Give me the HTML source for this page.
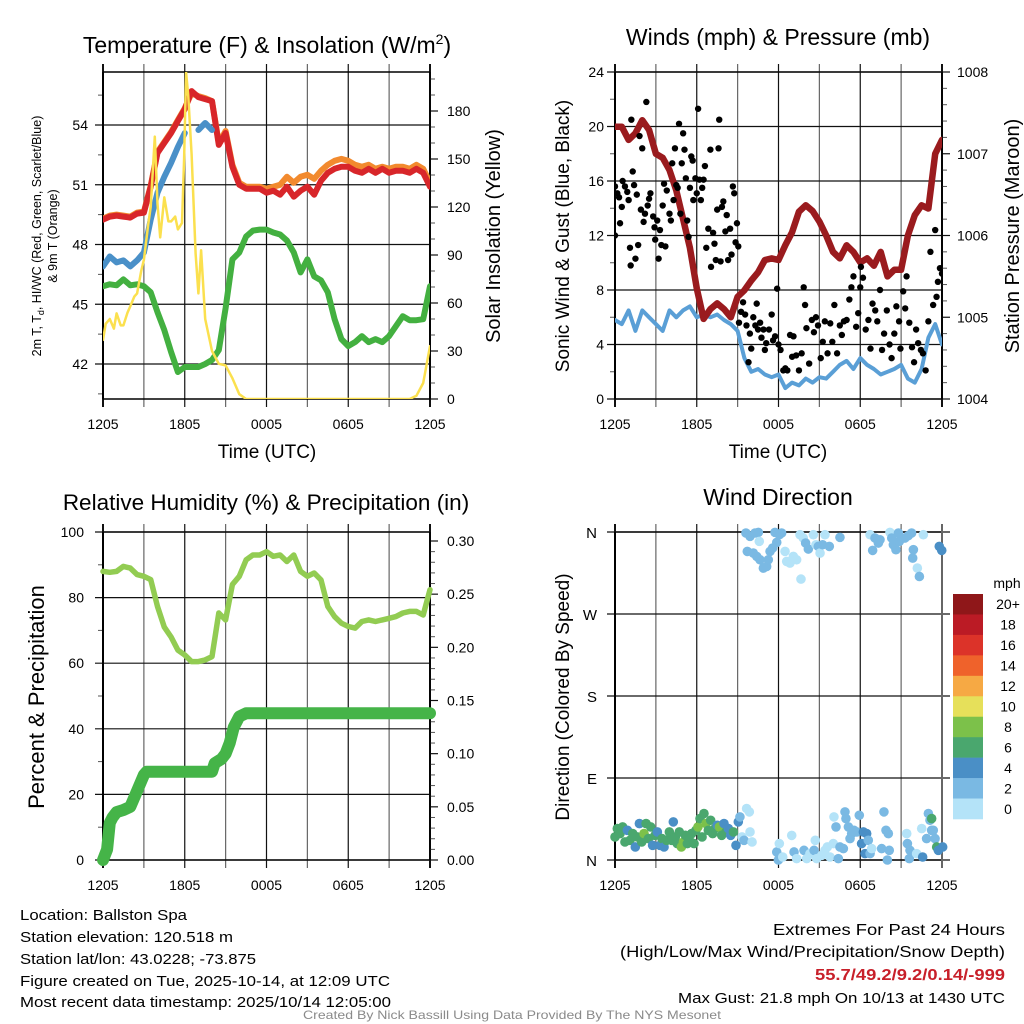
<!DOCTYPE html>
<html><head><meta charset="utf-8">
<style>
html,body{margin:0;padding:0;background:#fff;}
svg{display:block;font-family:"Liberation Sans",Arial,sans-serif;}
</style></head>
<body>
<svg id="fig" width="1024" height="1024" viewBox="0 0 1024 1024" xmlns="http://www.w3.org/2000/svg">
<g id="p1"></g>
<g id="p2"></g>
<g id="p3"></g>
<g id="p4"></g>
<g id="info">
<text x="20" y="920" font-size="15" textLength="167" lengthAdjust="spacingAndGlyphs">Location: Ballston Spa</text>
<text x="20" y="942" font-size="15" textLength="213" lengthAdjust="spacingAndGlyphs">Station elevation: 120.518 m</text>
<text x="20" y="964" font-size="15" textLength="236" lengthAdjust="spacingAndGlyphs">Station lat/lon: 43.0228; -73.875</text>
<text x="20" y="986" font-size="15" textLength="370" lengthAdjust="spacingAndGlyphs">Figure created on Tue, 2025-10-14, at 12:09 UTC</text>
<text x="20" y="1007" font-size="15" textLength="371" lengthAdjust="spacingAndGlyphs">Most recent data timestamp: 2025/10/14 12:05:00</text>
<text x="773" y="935" font-size="16" textLength="232" lengthAdjust="spacingAndGlyphs">Extremes For Past 24 Hours</text>
<text x="620" y="957" font-size="16" textLength="385" lengthAdjust="spacingAndGlyphs">(High/Low/Max Wind/Precipitation/Snow Depth)</text>
<text x="815" y="980" font-size="16" font-weight="bold" fill="#c8202a" textLength="190" lengthAdjust="spacingAndGlyphs">55.7/49.2/9.2/0.14/-999</text>
<text x="678" y="1003" font-size="15" textLength="327" lengthAdjust="spacingAndGlyphs">Max Gust: 21.8 mph On 10/13 at 1430 UTC</text>
<text x="303" y="1019" font-size="12" fill="#8a8a8a" textLength="418" lengthAdjust="spacingAndGlyphs">Created By Nick Bassill Using Data Provided By The NYS Mesonet</text>
</g>
</svg>
<script>
// ---------- time axis ----------
const timeTickHours = [0, 6, 12, 18, 24];
const timeTickLabels = ["1205", "1805", "0005", "0605", "1205"];

// ---------- panel 1: temperature ----------
const tempTicks = [42, 45, 48, 51, 54];
const solarTicks = [0, 30, 60, 90, 120, 150, 180];
const tHalf = [0,0.5,1,1.5,2,2.5,3,3.5,4,4.5,5,5.5,6,6.5,7,7.5,8,8.5,9,9.5,10,10.5,11,11.5,12,12.5,13,13.5,14,14.5,15,15.5,16,16.5,17,17.5,18,18.5,19,19.5,20,20.5,21,21.5,22,22.5,23,23.5,24];
const temp2m = [49.25,49.4,49.45,49.4,49.35,49.55,49.6,50.9,52.6,53.1,53.6,54.2,54.8,55.7,55.4,55.3,55.2,53.0,53.6,51.9,51.0,50.8,50.8,50.8,50.6,50.7,50.5,50.9,50.4,50.7,50.9,50.5,51.2,51.6,51.8,51.9,51.9,51.7,51.6,51.8,51.6,51.8,51.6,51.7,51.7,51.6,51.8,51.6,50.9];
const temp9m = [49.3,49.45,49.5,49.45,49.4,49.6,49.65,50.95,52.65,53.15,53.65,54.25,54.85,55.6,55.45,55.35,55.2,53.1,53.7,52.0,51.1,50.9,50.9,50.9,50.8,50.9,51.0,51.4,51.1,51.4,51.5,51.3,51.7,52.0,52.2,52.3,52.2,52.0,51.9,52.0,51.8,51.9,51.8,51.9,51.9,51.8,52.0,51.8,51.1];
const dewpoint = [45.9,46.0,45.95,46.25,45.95,46.0,45.9,45.6,44.6,43.7,42.6,41.6,41.85,41.85,41.85,42.0,42.2,42.7,44.8,47.25,47.6,48.4,48.7,48.75,48.75,48.6,48.5,48.2,47.6,46.6,47.25,46.4,46.2,45.6,44.25,43.25,42.9,43.1,43.4,43.1,43.25,43.1,43.4,43.9,44.4,44.2,44.2,44.25,45.9];
const heatIdx = [46.9,47.4,47.1,47.2,46.9,47.2,47.6,49.25,50.6,51.4,52.1,52.9,53.6,null,53.75,54.1,53.75,null,52.1,null,null,null,null,null,null,null,null,null,null,null,null,null,null,null,null,null,null,null,null,null,null,null,null,null,null,null,null,50.1,null];
const solarT = [0,0.2,0.5,0.8,1,1.3,1.5,1.8,2,2.3,2.5,2.8,3,3.3,3.5,3.8,4,4.2,4.5,4.8,5,5.3,5.5,5.8,5.95,6.1,6.25,6.5,6.8,7,7.2,7.5,8,8.5,9,9.5,10,10.5,22.5,23,23.5,24];
const solarV = [37,47,50,44,53.5,46,46,54,58,64,66,80,87,108,120,164,122,101,126,111,111,114,106,110,150,204,190,153,91,66,93,50,30,22,21,13,3,0,0,2,10,33];

// ---------- panel 2: winds & pressure ----------
const windTicks = [0, 4, 8, 12, 16, 20, 24];
const presTicks = [1004, 1005, 1006, 1007, 1008];
const sonicWind = [5.8,5.5,6.5,5.0,6.5,6.0,5.5,5.0,6.5,6.0,6.5,6.8,6.0,6.2,6.0,6.2,5.8,5.5,5.0,3.0,2.0,2.2,1.8,1.6,1.8,0.8,1.2,1.0,1.5,1.2,1.6,1.5,2.0,2.5,2.8,2.2,3.0,2.5,2.2,1.8,2.0,2.2,2.5,1.5,1.2,2.2,4.5,5.5,4.0];
const pressure = [1007.33,1007.33,1007.17,1007.25,1007.41,1007.29,1007.0,1006.95,1006.8,1006.55,1006.2,1005.85,1005.35,1004.98,1005.1,1005.17,1005.1,1005.0,1005.25,1005.33,1005.45,1005.55,1005.7,1005.72,1005.7,1005.88,1006.04,1006.29,1006.37,1006.3,1006.17,1006.0,1005.8,1005.72,1005.88,1005.8,1005.67,1005.72,1005.63,1005.8,1005.5,1005.58,1005.58,1006.0,1006.25,1006.37,1006.33,1007.0,1007.17];
const gustT = [0,0,0.17,0.3,0.37,0.5,0.56,0.73,0.9,1.0,1.1,1.15,1.2,1.3,1.4,1.5,1.6,1.7,1.8,1.9,2.0,2.1,2.2,2.3,2.4,2.5,2.6,2.8,2.9,2.95,3.1,3.2,3.3,3.4,3.5,3.6,3.7,3.8,4.0,4.1,4.2,4.3,4.4,4.5,4.6,4.7,4.8,4.9,5.0,5.1,5.2,5.3,5.4,5.5,5.6,5.7,5.75,5.9,6.0,6.1,6.2,6.3,6.4,6.5,6.6,6.7,6.85,7.0,7.05,7.2,7.3,7.4,7.5,7.6,7.65,7.75,7.85,7.95,8.1,8.2,8.3,8.45,8.55,8.65,8.75,8.85,8.95,9.05,
9.1,9.25,9.4,9.55,9.65,9.8,9.9,10.0,10.15,10.3,10.4,10.5,10.65,10.75,10.9,11.0,11.1,11.3,11.5,11.6,11.75,11.9,12.0,12.15,12.35,12.5,12.65,12.85,13.0,13.1,13.3,13.5,13.7,13.85,13.95,14.05,14.25,14.45,14.6,14.75,14.9,15.1,15.25,15.4,15.6,15.8,15.95,16.1,16.3,16.5,16.65,16.8,17.0,17.2,17.35,17.5,17.7,17.85,18.0,18.05,18.2,18.4,18.6,18.75,18.9,19.1,19.25,19.45,19.6,19.75,19.95,20.15,20.3,20.5,20.65,20.85,20.95,21.15,21.3,21.4,21.6,21.8,21.95,22.1,22.25,22.45,22.6,22.8,23.0,23.15,23.35,23.5,23.6,23.7,23.85,24.0];
const gustV = [15.6,12.0,15.1,14.8,12.9,14.1,16.0,15.6,15.2,14.6,11.1,9.8,20.5,16.7,15.7,10.3,15.0,11.3,19.3,13.9,18.4,13.0,13.6,21.8,14.2,14.7,15.1,13.4,12.6,11.7,13.1,10.3,12.4,11.3,14.2,15.8,11.2,15.3,13.6,13.1,17.3,14.6,18.4,15.7,15.5,20.2,13.6,17.3,19.5,18.3,16.2,13.1,11.9,15.5,17.8,17.5,14.6,16.2,15.1,21.3,16.1,14.6,15.5,16.1,17.1,11.1,12.5,18.3,9.7,12.2,11.4,10.2,13.9,18.4,20.5,10.1,14.1,14.5,12.3,13.5,10.2,12.5,10.6,15.6,15.1,11.5,12.9,11.2,
5.6,6.4,7.1,6.2,5.4,2.7,4.8,3.7,6.0,5.4,7.0,5.1,5.6,4.5,5.1,3.6,4.1,5.1,6.2,4.3,4.6,8.1,4.0,3.6,2.1,2.25,2.1,4.7,3.1,4.6,3.2,2.1,3.35,8.2,6.9,5.2,2.6,5.8,4.9,6.0,5.4,3.0,4.2,5.7,3.35,5.55,4.2,6.9,3.35,5.4,4.7,5.7,5.8,7.3,8.2,9.0,5.3,6.3,8.2,9.7,8.9,5.1,5.8,3.7,7.0,6.5,5.7,8.0,3.6,4.8,6.5,4.0,3.0,4.8,6.8,5.7,3.7,7.9,6.65,9.0,5.6,3.8,2.7,5.1,4.1,3.6,3.35,2.1,5.7,10.8,6.9,12.4,7.5,8.6,9.6,9.2];

// ---------- panel 3: RH & precip ----------
const rhTicks = [0, 20, 40, 60, 80, 100];
const precipTicks = [0, 0.05, 0.10, 0.15, 0.20, 0.25, 0.30];
const precipTickLabels = ["0.00", "0.05", "0.10", "0.15", "0.20", "0.25", "0.30"];
const rhValues = [88,87.7,88,89.5,89,87,86.5,85.5,77.3,71,68,64,62.5,60.5,60.5,61,62,75.3,73.2,84,86.5,91.5,93,93,94,92.6,93,91,93,88,86.5,87.5,85.4,77.3,74.2,72.2,71.2,70.7,72.7,73.2,72.7,73.2,73.7,74.2,75.3,75.8,75.8,74.7,82.4];
const precipT = [0,0.3,0.5,0.7,1,1.5,2,2.5,3,3.2,8,8.2,8.7,9,9.3,9.6,10,10.5,24];
const precipV = [0,0.01,0.035,0.04,0.045,0.047,0.05,0.065,0.08,0.083,0.083,0.091,0.095,0.1,0.11,0.125,0.135,0.138,0.138];

// ---------- panel 4: wind direction ----------
const dirTicks = [0, 90, 180, 270, 360];
const dirTickLabels = ["N", "E", "S", "W", "N"];
const speedBins = ["0", "2", "4", "6", "8", "10", "12", "14", "16", "18", "20+"];
const speedColors = ["#b4e3f8","#7ab9e3","#4a8fc6","#4aa76e","#7cc14a","#e6e05a","#f6a944","#ef622b","#dc3329","#bb1b25","#8f1719"];
const dirT = [0,0.17,0.37,0.56,0.73,0.91,1.1,1.3,1.49,1.64,1.79,1.96,2.13,2.28,2.45,2.62,2.76,2.94,3.11,3.3,3.45,3.6,3.79,3.99,4.16,4.28,4.43,4.57,4.72,4.87,5.02,5.16,5.31,5.46,5.63,5.8,5.94,6.09,6.24,6.39,6.53,6.68,6.85,7.02,7.17,7.34,7.51,7.66,7.83,8.0,8.15,8.32,8.49,8.69,8.88,9.05,9.17,9.32,9.47,9.66,9.86,9.91,10.06,
9.61,9.91,10.28,10.52,10.59,9.71,10.15,10.4,10.64,10.89,11.13,11.25,11.38,11.57,11.74,11.87,12.06,12.23,12.48,12.6,12.84,13.09,13.33,13.58,13.65,13.82,13.99,14.19,14.56,14.75,14.92,15.05,15.24,15.41,15.73,16.51,
18.72,18.91,19.08,19.33,19.45,20.18,20.31,20.43,20.62,20.8,20.87,21.04,21.28,21.53,21.77,21.9,21.85,22.19,22.34,22.63,23.8,23.98,
11.87,11.99,12.06,12.31,12.97,13.14,13.33,13.87,14.07,14.31,14.61,14.7,14.8,15.17,15.41,15.58,15.78,16.02,16.07,16.22,16.39,16.51,16.76,16.88,16.95,17.13,17.25,17.37,17.54,17.74,17.93,18.1,18.23,18.35,18.47,18.59,18.72,18.84,19.57,19.74,19.89,20.06,19.99,20.13,21.41,21.46,21.65,21.6,22.14,22.51,22.58,22.87,23.0,23.12,23.24,23.36,23.24,23.49,23.61,23.73,24.05];
const dirD = [25.3,34.5,29,36.3,19.8,32.6,21.6,29,14.3,25.3,40,19.8,29,40,23.5,36.3,16.1,27.1,30.8,16.1,23.5,14.3,21.6,30.8,21.6,41.8,25.3,18,30.8,14.3,19.8,27.1,18,21.6,29,18,32.6,36.3,45.5,25.3,51,40,32.6,43.6,29,34.5,38.1,36.3,27.1,40,30.8,34.5,27.1,30.8,16.1,41.8,47.3,25.3,21.6,56.5,52.8,30.8,19.8,
358.9,355.2,358.9,359.6,349.7,338.7,336.9,333.2,329.5,320.4,322.2,329.5,338.7,342.4,359.6,348.6,357,358.9,338.7,327.7,325.9,333.2,329.5,357,308.3,353.4,347.9,341.3,357,346,344.2,336.9,346,357,344.2,354.1,
357,339.8,353.4,347.9,351.5,359.6,353.4,346,340.6,358.9,349.7,353.4,353.4,356,358.9,340.6,331.4,320.4,311.2,357,344.2,339.8,
8.8,0,18,3.3,27,8.8,1.5,10.6,1.5,7,10.6,21.6,1.5,5.1,10.6,14.3,3.3,18,47.3,36.3,1.5,14.3,12.5,52.8,45.5,36.3,23.5,29,32.6,30.8,49.1,18,30.8,7,29,21.6,7,12.5,12.5,52.8,32.6,29,0,10.6,29,18,10.6,1.5,7,34.5,3.3,23.5,51,43.6,32.6,32.6,45.5,23.5,14.3,10.6,14.3];
const dirS = [7,7,7,7,7,5,7,7,5,7,5,7,9,7,7,7,5,7,5,5,7,5,7,7,7,5,7,7,7,9,9,7,7,7,7,7,7,9,7,7,7,9,7,7,7,7,5,9,7,5,7,5,5,7,5,5,3,1,3,1,1,1,1,
3,3,3,3,1,3,3,3,3,3,3,3,3,3,3,3,3,3,1,1,1,1,1,1,1,1,3,3,1,1,3,1,3,1,3,3,
1,3,3,3,3,1,3,3,3,3,3,3,3,3,3,3,3,1,3,1,5,5,
3,3,1,1,1,3,1,3,1,1,3,1,1,1,1,1,1,1,1,3,3,3,3,3,3,3,3,3,3,3,3,5,5,5,5,3,3,1,3,3,3,3,3,3,1,3,3,3,1,1,5,3,3,3,3,3,7,3,7,5,5];

// ---------- helpers ----------
const NS = "http://www.w3.org/2000/svg";
function mk(parent, tag, attrs, text) {
  const e = document.createElementNS(NS, tag);
  for (const k in attrs) e.setAttribute(k, attrs[k]);
  if (text !== undefined) e.textContent = text;
  parent.appendChild(e);
  return e;
}
function linear(d0, d1, r0, r1) { return v => r0 + (v - d0) / (d1 - d0) * (r1 - r0); }
function pathFrom(ts, vs, sx, sy) {
  let d = "", pen = false;
  for (let i = 0; i < ts.length; i++) {
    if (vs[i] === null || vs[i] === undefined) { pen = false; continue; }
    d += (pen ? "L" : "M") + sx(ts[i]).toFixed(1) + " " + sy(vs[i]).toFixed(1);
    pen = true;
  }
  return d;
}

function frame(g, L, R, T, B) {
  const sx = linear(0, 24, L, R);
  for (let h = 0; h <= 24; h += 3) {
    const x = sx(h);
    const gl = mk(g, "line", {x1: x, y1: T - 8, x2: x, y2: B + 8, stroke: (h % 6 === 0) ? "#111" : "#666", "stroke-width": (h===0||h===24)?2:1.2});
    
    
  }
  timeTickHours.forEach((h, i) => {
    const t = mk(g, "text", {x: sx(h), y: B + 30, "font-size": 14, "text-anchor": "middle"}, timeTickLabels[i]);
    
    
  });
  const top = mk(g, "line", {x1: L, y1: T, x2: R, y2: T, stroke: "#000", "stroke-width": 1.5});
  
  
  const bot = mk(g, "line", {x1: L, y1: B, x2: R, y2: B, stroke: "#000", "stroke-width": 1.5});
  
  
  return sx;
}
function hGrid(g, L, R, y, major) {
  const l = mk(g, "line", {x1: L - 8, y1: y, x2: R, y2: y, stroke: major ? "#111" : "#666", "stroke-width": 1.2});
  
  
}
function minorTick(g, x, y, dir) {
  const l = mk(g, "line", {x1: x, y1: y, x2: x + dir * 5, y2: y, stroke: "#555", "stroke-width": 1});
  
  
}
function rtick(g, x, y) {
  const l = mk(g, "line", {x1: x, y1: y, x2: x + 8, y2: y, stroke: "#111", "stroke-width": 1.2});
  
  
}
function label(g, x, y, txt, anchor, size, name) {
  const t = mk(g, "text", {x: x, y: y, "font-size": size || 14, "text-anchor": anchor || "end"}, txt);
  
  
  return t;
}
function vlabel(g, x, y, txt, size, name) {
  const t = mk(g, "text", {x: x, y: y, "font-size": size, "text-anchor": "middle", transform: `rotate(-90 ${x} ${y})`}, txt);
  
  
  return t;
}

// ---------- PANEL 1 ----------
(function(){
  const g = document.getElementById("p1");
  const L = 103, R = 430, T = 72, B = 399;
  const sy = linear(42, 54, 364, 125);
  const sr = linear(0, 180, 399, 111);
  const sx = frame(g, L, R, T, B);
  for (let v = 40.5; v <= 56.5; v += 1.5) { if (sy(v) > T && sy(v) < B && (v % 3 !== 0)) minorTick(g, L, sy(v), -1); }
  for (let v = 10; v <= 200; v += 10) { if (sr(v) > T && v % 30 !== 0) minorTick(g, R, sr(v), 1); }
  tempTicks.forEach(v => { hGrid(g, L, R, sy(v), true); label(g, 88, sy(v) + 5, String(v), "end", 14, "y-tick-label"); });
  solarTicks.forEach(v => { rtick(g, R, sr(v)); label(g, 447, sr(v) + 5, String(v), "start", 14, "right-tick-label"); });
  const lft = mk(g, "line", {x1: L, y1: T, x2: L, y2: B, stroke: "#000", "stroke-width": 2});
   
  const rgt = mk(g, "line", {x1: R, y1: T, x2: R, y2: B, stroke: "#000", "stroke-width": 1.5});
   
  const clip = mk(g, "clipPath", {id: "c1"}); mk(clip, "rect", {x: L, y: T, width: R - L, height: B - T});
  const pg = mk(g, "g", {"clip-path": "url(#c1)", "stroke-linejoin": "round", "stroke-linecap": "round", fill: "none"});
  const s1 = mk(pg, "path", {d: pathFrom(tHalf, temp9m, sx, sy), stroke: "#f28a2e", "stroke-width": 6});
   
  const s2 = mk(pg, "path", {d: pathFrom(tHalf, temp2m, sx, sy), stroke: "#d8262a", "stroke-width": 6});
   
  const s3 = mk(pg, "path", {d: pathFrom(tHalf, heatIdx, sx, sy), stroke: "#4a90c8", "stroke-width": 6});
   
  const s4 = mk(pg, "path", {d: pathFrom(tHalf, dewpoint, sx, sy), stroke: "#43b040", "stroke-width": 6});
   
  const s5 = mk(pg, "path", {d: pathFrom(solarT, solarV, sx, sr), stroke: "#fbe04e", "stroke-width": 2.5});
   
  const tt = mk(g, "text", {x: 267, y: 53, "font-size": 23, "text-anchor": "middle"});
   
  tt.innerHTML = 'Temperature (F) &amp; Insolation (W/m<tspan dy="-9" font-size="14">2</tspan><tspan dy="9">)</tspan>';
  const a1 = mk(g, "text", {x: 41, y: 236, "font-size": 12.5, "text-anchor": "middle", transform: "rotate(-90 41 236)"});
   
  a1.innerHTML = '2m T, T<tspan dy="3" font-size="9">d</tspan><tspan dy="-3">, HI/WC (Red, Green, Scarlet/Blue)</tspan>';
  vlabel(g, 57, 236, "& 9m T (Orange)", 12.5, "y-axis-title-line2");
  vlabel(g, 500, 236, "Solar Insolation (Yellow)", 20, "right-axis-title");
  label(g, 267, 458, "Time (UTC)", "middle", 19, "x-axis-title");
})();

// ---------- PANEL 2 ----------
(function(){
  const g = document.getElementById("p2");
  const L = 615, R = 942, T = 72, B = 399;
  const sy = linear(0, 24, B, T);
  const sp = linear(1004, 1008, B, T);
  const sx = frame(g, L, R, T, B);
  for (let v = 2; v < 24; v += 4) minorTick(g, L, sy(v), -1);
  for (let v = 1004.2; v < 1008; v += 0.2) { if (Math.abs(v - Math.round(v)) > 0.05) minorTick(g, R, sp(v), 1); }
  windTicks.forEach(v => { hGrid(g, L, R, sy(v), true); label(g, 604, sy(v) + 5, String(v), "end", 14, "y-tick-label"); });
  presTicks.forEach(v => { rtick(g, R, sp(v)); label(g, 957, sp(v) + 5, String(v), "start", 14, "right-tick-label"); });
  const lft = mk(g, "line", {x1: L, y1: T, x2: L, y2: B, stroke: "#000", "stroke-width": 2});
   
  const rgt = mk(g, "line", {x1: R, y1: T, x2: R, y2: B, stroke: "#000", "stroke-width": 1.5});
   
  const clip = mk(g, "clipPath", {id: "c2"}); mk(clip, "rect", {x: L, y: T, width: R - L, height: B - T});
  const pg = mk(g, "g", {"clip-path": "url(#c2)", "stroke-linejoin": "round", "stroke-linecap": "round", fill: "none"});
  const w = mk(pg, "path", {d: pathFrom(tHalf, sonicWind, sx, sy), stroke: "#5a9fd6", "stroke-width": 4});
   
  const p = mk(pg, "path", {d: pathFrom(tHalf, pressure, sx, sp), stroke: "#9a1b1e", "stroke-width": 6.5});
   
  gustT.forEach((t, i) => {
    const c = mk(pg, "circle", {cx: sx(t), cy: sy(gustV[i]), r: 3.2, fill: "#000"});
    
    
  });
  label(g, 778, 45, "Winds (mph) & Pressure (mb)", "middle", 23, "winds-title");
  vlabel(g, 569, 236, "Sonic Wind & Gust (Blue, Black)", 19, "y-axis-title");
  vlabel(g, 1019, 236, "Station Pressure (Maroon)", 20, "right-axis-title");
  label(g, 778, 458, "Time (UTC)", "middle", 19, "x-axis-title");
})();

// ---------- PANEL 3 ----------
(function(){
  const g = document.getElementById("p3");
  const L = 103, R = 430, T = 532, B = 860;
  const sy = linear(0, 100, B, T);
  const sr = linear(0, 0.30, B, 541);
  const sx = frame(g, L, R, T, B);
  for (let v = 10; v < 100; v += 20) minorTick(g, L, sy(v), -1);
  for (let v = 0.01; v < 0.31; v += 0.01) { const k = Math.round(v * 100); if (k % 5 !== 0) minorTick(g, R, sr(k / 100), 1); }
  rhTicks.forEach(v => { hGrid(g, L, R, sy(v), true); label(g, 84, sy(v) + 5, String(v), "end", 14, "y-tick-label"); });
  precipTicks.forEach((v, i) => { rtick(g, R, sr(v)); label(g, 447, sr(v) + 5, precipTickLabels[i], "start", 14, "right-tick-label"); });
  const lft = mk(g, "line", {x1: L, y1: T, x2: L, y2: B, stroke: "#000", "stroke-width": 2});
   
  const rgt = mk(g, "line", {x1: R, y1: T, x2: R, y2: B, stroke: "#000", "stroke-width": 1.5});
   
  const pg = mk(g, "g", {"stroke-linejoin": "round", "stroke-linecap": "round", fill: "none"});
  const rh = mk(pg, "path", {d: pathFrom(tHalf, rhValues, sx, sy), stroke: "#92cc52", "stroke-width": 5.5});
   
  const pr = mk(pg, "path", {d: pathFrom(precipT, precipV, sx, sr), stroke: "#45b448", "stroke-width": 12});
   
  label(g, 266, 510, "Relative Humidity (%) & Precipitation (in)", "middle", 22.5, "humidity-title");
  vlabel(g, 44, 697, "Percent & Precipitation", 22, "y-axis-title");
})();

// ---------- PANEL 4 ----------
(function(){
  const g = document.getElementById("p4");
  const L = 615, R = 942, T = 532, B = 860;
  const sy = linear(0, 360, B, T);
  const sx = frame(g, L, R, T, B);
  dirTicks.forEach((v, i) => { hGrid(g, L, R + 8, sy(v), true); label(g, 597, sy(v) + 6, dirTickLabels[i], "end", 15, "y-tick-label"); });
  const lft = mk(g, "line", {x1: L, y1: T, x2: L, y2: B, stroke: "#000", "stroke-width": 2});
   
  const rgt = mk(g, "line", {x1: R, y1: T - 8, x2: R, y2: B + 8, stroke: "#666", "stroke-width": 2});
   
  const pg = mk(g, "g", {});
  dirT.forEach((t, i) => {
    const bin = Math.min(10, Math.floor(dirS[i] / 2));
    const c = mk(pg, "circle", {cx: sx(t), cy: sy(dirD[i]), r: 4.8, fill: speedColors[bin]});
    
    
  });
  const cb = mk(g, "g", {});
  
  
  const top = 594, bh = (819 - 594) / speedBins.length;
  speedBins.forEach((lab, i) => {
    const k = speedBins.length - 1 - i;
    const r = mk(cb, "rect", {x: 953, y: top + i * bh, width: 30, height: bh + 0.3, fill: speedColors[k]});
    
    
    label(cb, 1008, top + i * bh + bh / 2 + 5, speedBins[k], "middle", 14, "colorbar-label");
  });
  label(cb, 1007, 588, "mph", "middle", 14, "colorbar-unit");
  label(g, 778, 505, "Wind Direction", "middle", 23, "wind-direction-title");
  vlabel(g, 569, 697, "Direction (Colored By Speed)", 19, "y-axis-title");
})();
</script>
</body></html>
